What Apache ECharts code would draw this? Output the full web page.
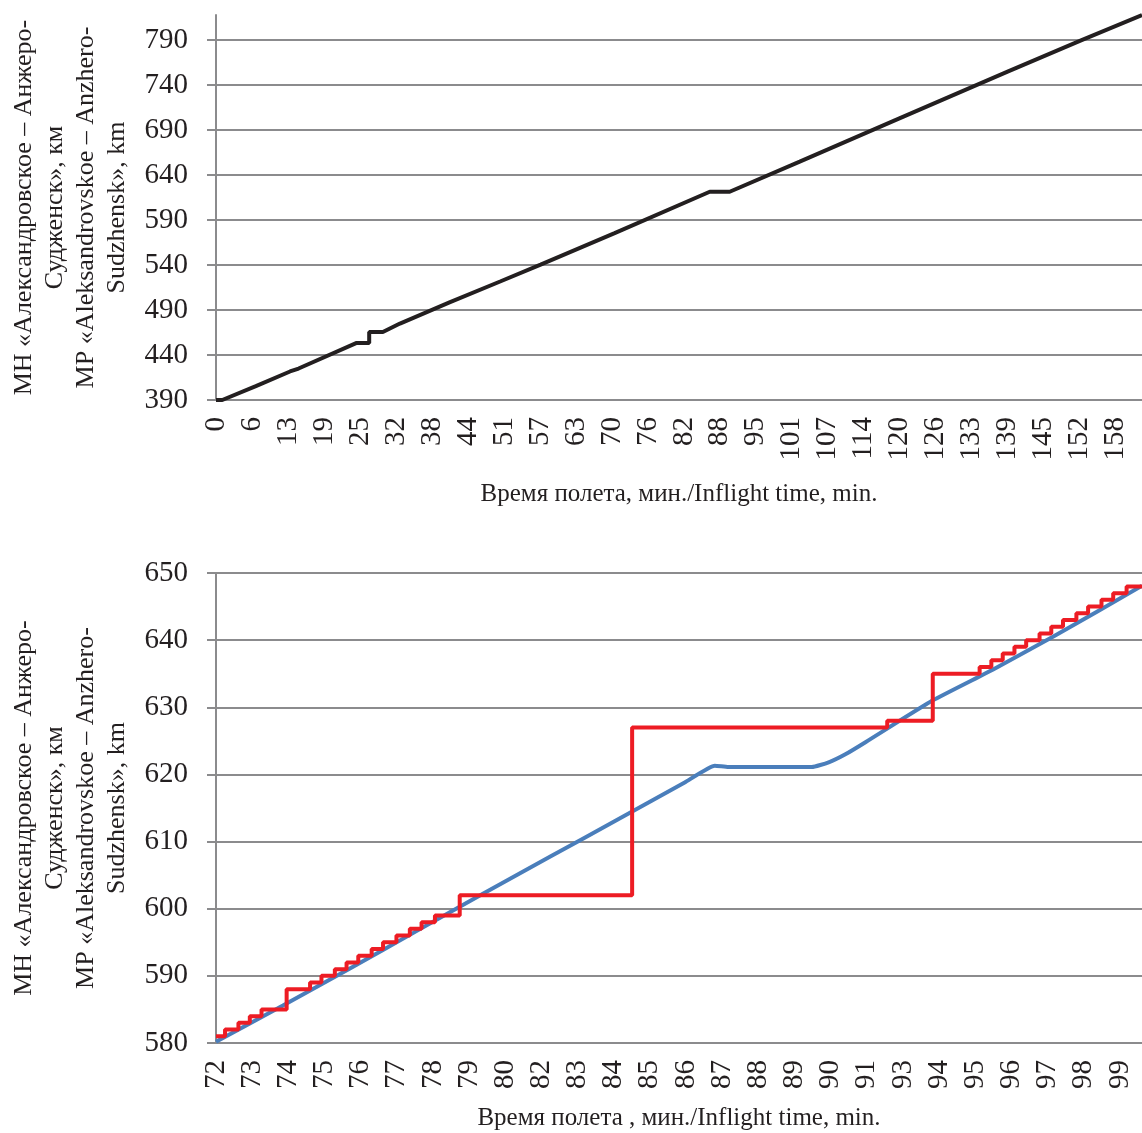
<!DOCTYPE html>
<html>
<head>
<meta charset="utf-8">
<title>Inflight distance</title>
<script src="https://cdn.jsdelivr.net/npm/echarts@6/dist/echarts.min.js"></script>
<style>
  html, body { margin: 0; padding: 0; background: #fff; }
  #chart { width: 1142px; height: 1133px; }
</style>
</head>
<body>
<div id="chart"></div>
<script>
// top chart: whole flight, minutes -> km
const topTicks = ['0', '6', '13', '19', '25', '32', '38', '44', '51', '57', '63', '70', '76', '82', '88', '95', '101', '107', '114', '120', '126', '133', '139', '145', '152', '158']
const topTime = [0, 1.1, 7, 13, 14.5, 24.7, 26.9, 26.9, 29.3, 32.3, 41, 50, 57, 70, 86.7, 90.2, 102.5, 120, 139, 152, 162.6]
const topKm = [390, 390, 405.5, 421.7, 425, 453.5, 453.5, 465.5, 465.5, 475, 498.5, 522, 540.5, 575.5, 621.5, 621.5, 655, 703, 755, 790, 818]

// bottom chart: 72..99 min detail
const bottomTicks = ['72', '73', '74', '75', '76', '77', '78', '79', '80', '82', '83', '84', '85', '86', '87', '88', '89', '90', '91', '93', '94', '95', '96', '97', '98', '99']
const blueTime = [72, 74, 76, 78, 80, 82, 84, 86, 86.9, 87.3, 89.8, 90.3, 90.8, 91.4, 93.4, 95.2, 97, 99.66]
const blueKm = [580.2, 585.6, 591.1, 596.7, 602.3, 607.8, 613.3, 618.8, 621.3, 621.1, 621.1, 621.8, 623.0, 624.8, 631.0, 635.6, 640.5, 648.1]
const redTime = [72, 72.27, 72.67, 73.01, 73.36, 74.11, 74.81, 75.15, 75.55, 75.9, 76.25, 76.65, 76.99, 77.39, 77.79, 78.14, 78.54, 79.28, 84.43, 92.05, 93.41, 94.81, 95.16, 95.5, 95.85, 96.2, 96.6, 96.95, 97.3, 97.7, 98.05, 98.45, 98.8, 99.2, 99.66]
const redKm = [581, 582, 583, 584, 585, 588, 589, 590, 591, 592, 593, 594, 595, 596, 597, 598, 599, 602, 627, 628, 635, 636, 637, 638, 639, 640, 641, 642, 643, 644, 645, 646, 647, 648, 648]

const yName = 'МН «Александровское – Анжеро-\nСудженск», км\nМР «Aleksandrovskoe – Anzhero-\nSudzhensk», km'

const FONT = 'Liberation Serif'
const INK = '#231f20'
const GRAY = '#8b8b8d'

function pairs(xs, ys) {
    return xs.map((x, i) => [x, ys[i]])
}

function yAxisBase(hideMax) {
    return {
        type: 'value',
        name: yName,
        nameLocation: 'middle',
        nameRotate: 90,
        nameGap: 83,
        nameTextStyle: { fontFamily: FONT, fontSize: 26, color: INK, lineHeight: 31, align: 'center' },
        axisLine: { show: true, lineStyle: { color: GRAY, width: 2 } },
        axisTick: { show: true, length: 9, lineStyle: { color: GRAY, width: 2 } },
        axisLabel: { fontFamily: FONT, fontSize: 29, color: INK, margin: 28, showMaxLabel: !hideMax },
        splitLine: { show: true, showMaxLine: !hideMax, lineStyle: { color: GRAY, width: 2 } }
    }
}

function xAxisBase(ticks, start, step) {
    return {
        type: 'value',
        nameLocation: 'middle',
        nameTextStyle: { fontFamily: FONT, fontSize: 25, color: INK },
        axisLine: { show: true, onZero: false, lineStyle: { color: GRAY, width: 2 } },
        axisTick: { show: false },
        splitLine: { show: false },
        axisLabel: {
            rotate: 90,
            margin: 17,
            fontFamily: FONT,
            fontSize: 29,
            color: INK,
            showMaxLabel: false,
            formatter: v => ticks[Math.round((v - start) / step)] ?? ''
        }
    }
}

const chart = echarts.init(document.getElementById('chart'), null, { renderer: 'canvas' })

chart.setOption({
    backgroundColor: '#fff',
    animation: false,
    grid: [
        { left: 216, right: 0, top: 15, height: 385 },
        { left: 216, right: 0, top: 573, height: 470 }
    ],
    xAxis: [
        Object.assign(xAxisBase(topTicks, 0, 6.32), {
            gridIndex: 0, min: 0, max: 162.6, interval: 6.32,
            name: 'Время полета, мин./Inflight time, min.', nameGap: 82
        }),
        Object.assign(xAxisBase(bottomTicks, 72, 1.08), {
            gridIndex: 1, min: 72, max: 99.66, interval: 1.08,
            name: 'Время полета , мин./Inflight time, min.', nameGap: 63
        })
    ],
    yAxis: [
        Object.assign(yAxisBase(true), { gridIndex: 0, min: 390, max: 818, interval: 50 }),
        Object.assign(yAxisBase(false), { gridIndex: 1, min: 580, max: 650, interval: 10 })
    ],
    series: [
        {
            type: 'line',
            xAxisIndex: 0,
            yAxisIndex: 0,
            data: pairs(topTime, topKm),
            showSymbol: false,
            lineStyle: { color: INK, width: 4 }
        },
        {
            type: 'line',
            xAxisIndex: 1,
            yAxisIndex: 1,
            data: pairs(blueTime, blueKm),
            showSymbol: false,
            smooth: 0.15,
            lineStyle: { color: '#4a7ebb', width: 4 }
        },
        {
            type: 'line',
            xAxisIndex: 1,
            yAxisIndex: 1,
            data: pairs(redTime, redKm),
            showSymbol: false,
            step: 'end',
            lineStyle: { color: '#ed1c24', width: 4 }
        }
    ]
})
</script>
</body>
</html>
